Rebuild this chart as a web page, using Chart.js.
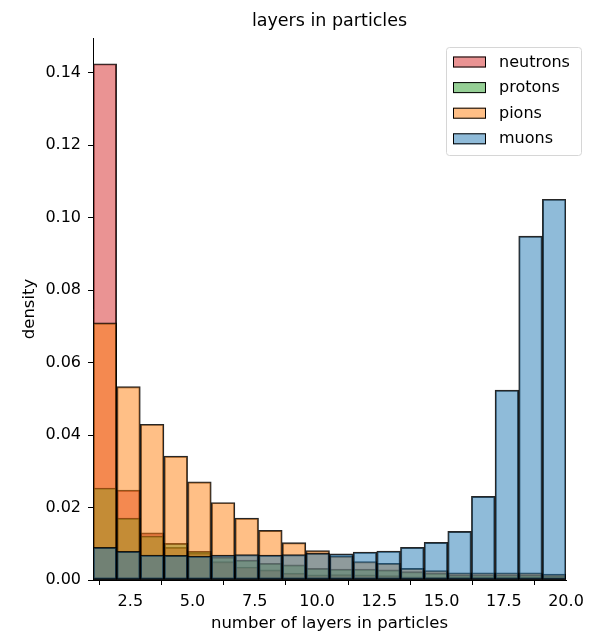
<!DOCTYPE html>
<html>
<head>
<meta charset="utf-8">
<script src="https://cdn.jsdelivr.net/npm/chart.js@4/dist/chart.umd.min.js"></script>
<style>
  html, body { margin: 0; padding: 0; background: #fff; }
  #wrap { width: 589px; height: 635px; position: relative; }
</style>
</head>
<body>
<div id="wrap"><canvas id="chart"></canvas></div>
<script>
// bin centres (20 bins of width 0.95 between 1 and 20)
const binCenters = [1.475, 2.425, 3.375, 4.325, 5.275, 6.225, 7.175, 8.125, 9.075, 10.025,
                    10.975, 11.925, 12.875, 13.825, 14.775, 15.725, 16.675, 17.625, 18.575, 19.525];

const seriesNames = ["neutrons", "protons", "pions", "muons"];
const seriesColors = ["#d62728", "#2ca02c", "#ff7f0e", "#1f77b4"];

// densities
const neutrons = [0.1425, 0.0248, 0.0130, 0.0090, 0.0074, 0.0051, 0.0036, 0.0028, 0.0019, 0.0014,
                  0.0015, 0.0014, 0.0012, 0.0009, 0.0008, 0.0008, 0.0008, 0.0008, 0.0008, 0.0006];
const protons  = [0.0254, 0.0171, 0.0122, 0.0101, 0.0079, 0.0063, 0.0055, 0.0046, 0.0042, 0.0032,
                  0.0030, 0.0030, 0.0028, 0.0023, 0.0019, 0.0014, 0.0014, 0.0014, 0.0014, 0.0012];
const pions    = [0.0710, 0.0534, 0.0430, 0.0342, 0.0271, 0.0214, 0.0171, 0.0137, 0.0103, 0.0081,
                  0.0066, 0.0051, 0.0046, 0.0032, 0.0026, 0.0020, 0.0020, 0.0020, 0.0020, 0.0016];
const muons    = [0.0090, 0.0079, 0.0069, 0.0068, 0.0066, 0.0069, 0.0070, 0.0069, 0.0070, 0.0074,
                  0.0072, 0.0077, 0.0080, 0.0090, 0.0104, 0.0134, 0.0231, 0.0524, 0.0949, 0.1051];

const xTicks = [2.5, 5.0, 7.5, 10.0, 12.5, 15.0, 17.5, 20.0];
const yTicks = [0.00, 0.02, 0.04, 0.06, 0.08, 0.10, 0.12, 0.14];

const FONT = "'DejaVu Sans', sans-serif";

function alpha(hex, a) {
  let r = parseInt(hex.slice(1, 3), 16), g = parseInt(hex.slice(3, 5), 16), b = parseInt(hex.slice(5, 7), 16);
  return `rgba(${r},${g},${b},${a})`;
}

const allSeries = [neutrons, protons, pions, muons];

// neutrons drawn first (bottom), muons last (top)
let datasets = allSeries.map((vals, i) => ({
  label: seriesNames[i],
  data: binCenters.map((x, j) => ({ x: x, y: vals[j] })),
  backgroundColor: alpha(seriesColors[i], 0.5),
  borderColor: "rgba(0,0,0,0.85)",
  borderWidth: 1.3,
  borderSkipped: false,
  barPercentage: 1,
  categoryPercentage: 1,
  grouped: false,
  order: allSeries.length - i
}));

// legend box inside the axes, top right
const legendInside = {
  id: "legendInside",
  afterDraw(chart) {
    const ctx = chart.ctx;
    let x0 = 446.5, y0 = 47.5, w = 135, h = 108;
    ctx.save();
    ctx.beginPath();
    ctx.roundRect(x0, y0, w, h, 3);
    ctx.fillStyle = "rgba(255,255,255,0.8)";
    ctx.fill();
    ctx.strokeStyle = "#d6d6d6";
    ctx.lineWidth = 1;
    ctx.stroke();

    ctx.font = "16px " + FONT;
    ctx.textBaseline = "middle";
    seriesNames.forEach((name, i) => {
      let cy = 62.5 + i * 25.6;
      ctx.fillStyle = "#fff";
      ctx.fillRect(453, cy - 6, 33, 11);
      ctx.fillStyle = alpha(seriesColors[i], 0.5);
      ctx.fillRect(453, cy - 6, 33, 11);
      ctx.strokeStyle = "#000";
      ctx.lineWidth = 1;
      ctx.strokeRect(453.5, cy - 5.5, 32, 10);
      ctx.fillStyle = "#000";
      ctx.fillText(name, 499, cy);
    });
    ctx.restore();
  }
};

Chart.defaults.font.family = FONT;
Chart.defaults.color = "#000";

new Chart(document.getElementById("chart"), {
  type: "bar",
  data: { datasets: datasets },
  options: {
    responsive: true,
    maintainAspectRatio: false,
    animation: false,
    layout: { padding: { left: 0, right: 23, top: 0, bottom: 0 } },
    plugins: {
      legend: { display: false },
      tooltip: { enabled: false },
      title: {
        display: true,
        text: "layers in particles",
        fullSize: false,
        font: { size: 17.5, weight: "normal" },
        color: "#000",
        padding: { top: 11, bottom: 6 }
      }
    },
    scales: {
      x: {
        type: "linear",
        min: 1,
        max: 20,
        offset: false,
        afterBuildTicks: (s) => { s.ticks = xTicks.map(v => ({ value: v })); },
        afterFit: (s) => { s.height = 55; s.paddingLeft = 0; s.paddingRight = 0; },
        ticks: {
          font: { size: 16 },
          padding: 7,
          maxRotation: 0,
          autoSkip: false,
          callback: (v) => Number(v).toFixed(1)
        },
        grid: { display: true, drawOnChartArea: false, drawTicks: true, tickLength: 5, color: "#000" },
        border: { display: true, color: "#000", width: 1 },
        title: {
          display: true,
          text: "number of layers in particles",
          font: { size: 16.5 },
          padding: { top: 0, bottom: 1 }
        }
      },
      y: {
        type: "linear",
        min: 0,
        max: 0.1496,
        afterBuildTicks: (s) => { s.ticks = yTicks.map(v => ({ value: v })); },
        afterFit: (s) => { s.width = 93; },
        ticks: {
          font: { size: 16 },
          padding: 7,
          callback: (v) => Number(v).toFixed(2)
        },
        grid: { display: true, drawOnChartArea: false, drawTicks: true, tickLength: 5, color: "#000" },
        border: { display: true, color: "#000", width: 1 },
        title: {
          display: true,
          text: "density",
          font: { size: 16.5 },
          padding: { top: 20, bottom: 0 }
        }
      }
    }
  },
  plugins: [legendInside]
});
</script>
</body>
</html>
